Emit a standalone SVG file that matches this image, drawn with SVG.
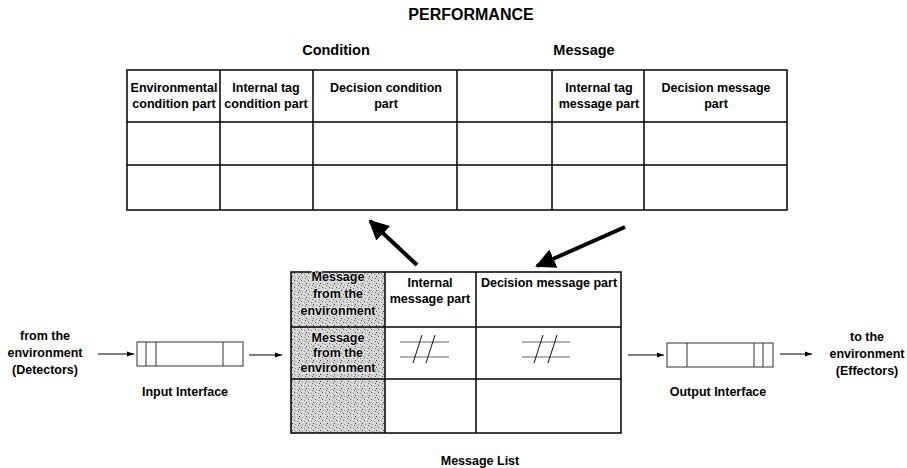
<svg xmlns="http://www.w3.org/2000/svg" width="907" height="468" viewBox="0 0 907 468">
  <style>
    text { font-family: "Liberation Sans", Arial, sans-serif; font-weight: bold; fill: #000; text-anchor: middle; }
    .title { font-size: 16px; }
    .head { font-size: 14.5px; }
    .cell { font-size: 12.5px; }
    .lbl { font-size: 12.5px; }
    .grid { fill: none; stroke: #000; stroke-width: 1.5; }
    .box { fill: #fff; stroke: #333; stroke-width: 1; }
    .thin { stroke: #333; stroke-width: 1; fill: none; }
    .hash-h { stroke: #666; stroke-width: 1.2; }
    .hash-s { stroke: #111; stroke-width: 1; }
    .small { stroke: #000; stroke-width: 1; fill: none; }
    .big { stroke: #000; stroke-width: 4; fill: none; }
    .shade-text { paint-order: stroke; stroke: #eee; stroke-width: 1.5px; }
  </style>
  <defs>
    <marker id="tip" viewBox="0 0 10 10" refX="10" refY="5" markerWidth="7" markerHeight="7" markerUnits="userSpaceOnUse" orient="auto">
      <path d="M0,1.5 L10,5 L0,8.5 Z" fill="#000"/>
    </marker>
    <marker id="bigtip" viewBox="0 0 10 10" refX="9" refY="5" markerWidth="5" markerHeight="5" orient="auto">
      <path d="M0,0 L10,5 L0,10 Z" fill="#000"/>
    </marker>
    <!-- stippled grey fill for the environment column -->
    <pattern id="stipple" width="7" height="7" patternUnits="userSpaceOnUse">
      <rect width="7" height="7" fill="#d4d4d4"/>
      <rect x="0" y="0" width="1" height="1" fill="#555"/>
      <rect x="3" y="1" width="1" height="1" fill="#888"/>
      <rect x="5" y="3" width="1" height="1" fill="#444"/>
      <rect x="1" y="4" width="1" height="1" fill="#999"/>
      <rect x="4" y="5" width="1" height="1" fill="#666"/>
      <rect x="6" y="6" width="1" height="1" fill="#aaa"/>
      <rect x="2" y="6" width="1" height="1" fill="#f4f4f4"/>
      <rect x="6" y="0" width="1" height="1" fill="#f4f4f4"/>
      <rect x="2" y="2" width="1" height="1" fill="#fafafa"/>
    </pattern>
  </defs>

  <rect width="907" height="468" fill="#fff"/>

  <g id="performance-title">
    <text class="title" x="471" y="20">PERFORMANCE</text>
    <text class="head" x="336" y="55">Condition</text>
    <text class="head" x="584" y="55">Message</text>
  </g>

  <!-- classifier rule table: condition parts and message parts -->
  <g id="rule-table">
    <rect class="grid" x="127" y="70" width="660" height="140"/>
    <line class="grid" x1="127" y1="122" x2="787" y2="122"/>
    <line class="grid" x1="127" y1="165" x2="787" y2="165"/>
    <line class="grid" x1="220" y1="70" x2="220" y2="210"/>
    <line class="grid" x1="313" y1="70" x2="313" y2="210"/>
    <line class="grid" x1="457" y1="70" x2="457" y2="210"/>
    <line class="grid" x1="552" y1="70" x2="552" y2="210"/>
    <line class="grid" x1="644" y1="70" x2="644" y2="210"/>
    <text class="cell" x="174" y="92">Environmental</text>
    <text class="cell" x="174" y="108">condition part</text>
    <text class="cell" x="266" y="92">Internal tag</text>
    <text class="cell" x="266" y="108">condition part</text>
    <text class="cell" x="386" y="92">Decision condition</text>
    <text class="cell" x="386" y="108">part</text>
    <text class="cell" x="599" y="92">Internal tag</text>
    <text class="cell" x="599" y="108">message part</text>
    <text class="cell" x="716" y="92">Decision message</text>
    <text class="cell" x="716" y="108">part</text>
  </g>

  <!-- message list -->
  <g id="message-list">
    <rect x="291" y="272" width="94" height="161" fill="url(#stipple)"/>
    <rect class="grid" x="291" y="272" width="330" height="161"/>
    <line class="grid" x1="291" y1="327" x2="621" y2="327"/>
    <line class="grid" x1="291" y1="379" x2="621" y2="379"/>
    <line class="grid" x1="385" y1="272" x2="385" y2="433"/>
    <line class="grid" x1="476" y1="272" x2="476" y2="433"/>
    <text class="cell shade-text" x="338" y="281">Message</text>
    <text class="cell shade-text" x="338" y="298">from the</text>
    <text class="cell shade-text" x="338" y="315">environment</text>
    <text class="cell shade-text" x="338" y="342">Message</text>
    <text class="cell shade-text" x="338" y="357">from the</text>
    <text class="cell shade-text" x="338" y="372">environment</text>
    <text class="cell" x="430" y="287">Internal</text>
    <text class="cell" x="430" y="303">message part</text>
    <text class="cell" x="549" y="287">Decision message part</text>
    <!-- hash marks -->
    <line class="hash-h" x1="400" y1="342" x2="449" y2="342"/>
    <line class="hash-h" x1="400" y1="357" x2="449" y2="357"/>
    <line class="hash-s" x1="422" y1="335" x2="413" y2="363"/>
    <line class="hash-s" x1="435" y1="335" x2="426" y2="363"/>
    <line class="hash-h" x1="522" y1="342" x2="570" y2="342"/>
    <line class="hash-h" x1="522" y1="357" x2="570" y2="357"/>
    <line class="hash-s" x1="543" y1="335" x2="534" y2="363"/>
    <line class="hash-s" x1="557" y1="335" x2="548" y2="363"/>
    <text class="lbl" x="480" y="465">Message List</text>
  </g>

  <g id="source">
    <text class="lbl" x="45" y="340">from the</text>
    <text class="lbl" x="45" y="357">environment</text>
    <text class="lbl" x="45" y="374">(Detectors)</text>
  </g>

  <g id="input-interface">
    <rect class="box" x="137" y="342" width="106" height="24"/>
    <line class="thin" x1="146" y1="342" x2="146" y2="366"/>
    <line class="thin" x1="156" y1="342" x2="156" y2="366"/>
    <line class="thin" x1="223" y1="342" x2="223" y2="366"/>
    <text class="lbl" x="185" y="396">Input Interface</text>
  </g>

  <g id="output-interface">
    <rect class="box" x="667" y="343" width="106" height="24"/>
    <line class="thin" x1="687" y1="343" x2="687" y2="367"/>
    <line class="thin" x1="754" y1="343" x2="754" y2="367"/>
    <line class="thin" x1="763" y1="343" x2="763" y2="367"/>
    <text class="lbl" x="718" y="396">Output Interface</text>
  </g>

  <g id="sink">
    <text class="lbl" x="867" y="341">to the</text>
    <text class="lbl" x="867" y="358">environment</text>
    <text class="lbl" x="867" y="375">(Effectors)</text>
  </g>

  <g id="connectors">
    <line class="small" x1="98" y1="354" x2="134" y2="354" marker-end="url(#tip)"/>
    <line class="small" x1="249" y1="355" x2="282" y2="355" marker-end="url(#tip)"/>
    <line class="small" x1="628" y1="355" x2="664" y2="355" marker-end="url(#tip)"/>
    <line class="small" x1="780" y1="354" x2="812" y2="354" marker-end="url(#tip)"/>
    <line class="big" x1="417" y1="265" x2="370" y2="221" marker-end="url(#bigtip)"/>
    <line class="big" x1="625" y1="227" x2="537" y2="266" marker-end="url(#bigtip)"/>
  </g>
</svg>
